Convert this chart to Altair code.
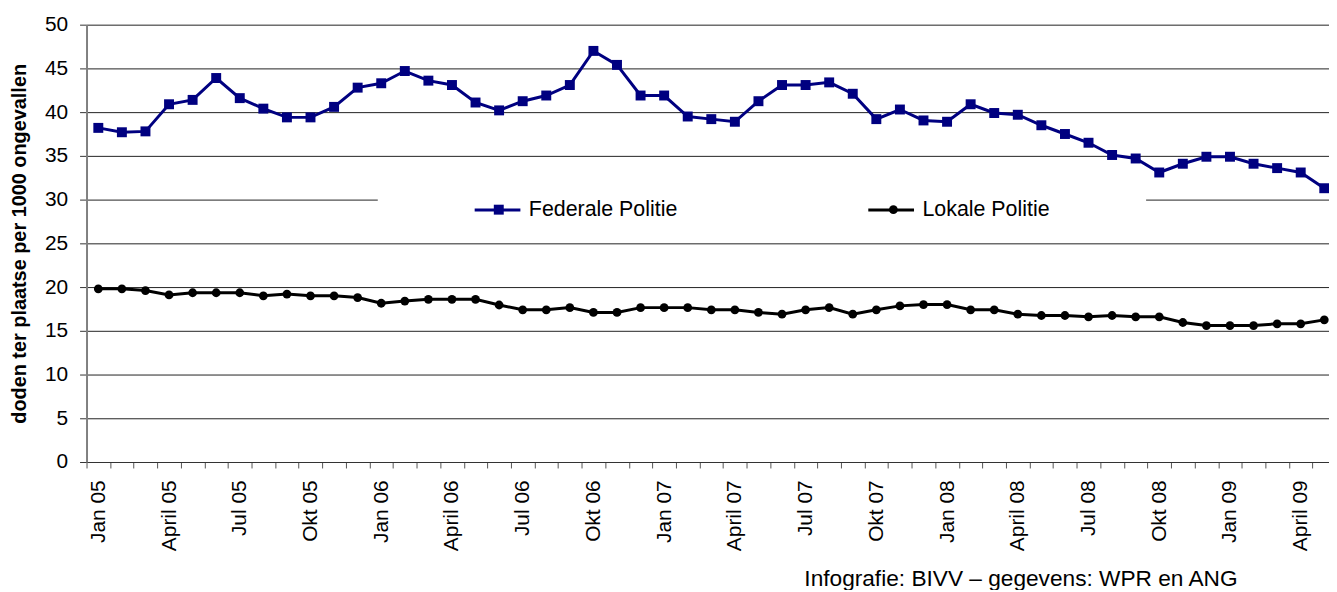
import json
import altair as alt
import pandas as pd

# ---- data ----
series_names = ["Federale Politie", "Lokale Politie"]
series_colors = ["#000080", "#000000"]
series_shapes = ["square", "circle"]
series_sizes = [100, 78]

federale = [38.2, 37.7, 37.8, 40.9, 41.4, 43.9, 41.6, 40.4, 39.4, 39.4,
            40.6, 42.8, 43.3, 44.7, 43.6, 43.1, 41.1, 40.2, 41.25, 41.9,
            43.1, 47.0, 45.4, 41.9, 41.9, 39.5, 39.2, 38.9, 41.25, 43.1,
            43.1, 43.4, 42.1, 39.2, 40.3, 39.05, 38.9, 40.9, 39.9, 39.7,
            38.5, 37.5, 36.5, 35.1, 34.7, 33.1, 34.1, 34.9, 34.9, 34.1,
            33.6, 33.1, 31.3]

lokale = [19.8, 19.8, 19.6, 19.1, 19.35, 19.35, 19.35, 19.0, 19.2, 19.0,
          19.0, 18.8, 18.15, 18.4, 18.6, 18.6, 18.6, 17.95, 17.4, 17.4,
          17.65, 17.1, 17.1, 17.65, 17.65, 17.65, 17.4, 17.4, 17.1, 16.9,
          17.4, 17.65, 16.9, 17.4, 17.85, 18.0, 18.0, 17.4, 17.4, 16.9,
          16.75, 16.75, 16.6, 16.75, 16.6, 16.6, 15.95, 15.6, 15.6, 15.6,
          15.8, 15.8, 16.25]

tick_labels = ["Jan 05", "April 05", "Jul 05", "Okt 05",
               "Jan 06", "April 06", "Jul 06", "Okt 06",
               "Jan 07", "April 07", "Jul 07", "Okt 07",
               "Jan 08", "April 08", "Jul 08", "Okt 08",
               "Jan 09", "April 09"]

y_ticks = [0, 5, 10, 15, 20, 25, 30, 35, 40, 45, 50]

y_title = "doden ter plaatse per 1000 ongevallen"
source_text = "Infografie: BIVV \u2013 gegevens: WPR en ANG"

FONT = "Liberation Sans"

rows = []
for name, vals in zip(series_names, [federale, lokale]):
    for i, v in enumerate(vals):
        rows.append({"idx": i, "series": name, "value": v})
df = pd.DataFrame(rows)

n = len(federale)
tick_positions = [i - 0.5 for i in range(n)]
label_positions = [3 * k for k in range(len(tick_labels))]

label_expr = ("floor(datum.value) === datum.value ? "
              + json.dumps(tick_labels) + "[datum.value / 3] : ''")

x_enc = alt.X(
    "idx:Q",
    scale=alt.Scale(domain=[-0.5, n - 0.8], nice=False, zero=False),
    axis=alt.Axis(
        title=None,
        values=tick_positions + label_positions,
        labelExpr=label_expr,
        labelAngle=270,
        labelFontSize=21,
        labelFont=FONT,
        labelColor="black",
        labelPadding=12,
        labelOverlap=False,
        labelFlush=False,
        labelBound=False,
        tickSize=6,
        tickColor="#555555",
        tickWidth=1,
        tickOpacity={"condition": {"test": "floor(datum.value) !== datum.value", "value": 1}, "value": 0},
        domainColor="#333333",
        domainWidth=1,
        grid=False,
    ),
)

y_enc = alt.Y(
    "value:Q",
    scale=alt.Scale(domain=[0, 50], nice=False, zero=True),
    axis=alt.Axis(
        title=y_title,
        titleFont=FONT,
        titleFontSize=20,
        titleFontWeight="bold",
        titleColor="black",
        titlePadding=15,
        values=y_ticks,
        labelFontSize=21,
        labelFont=FONT,
        labelColor="black",
        labelPadding=12,
        tickSize=7,
        tickColor="#333333",
        domainColor="#808080",
        domainWidth=2,
        grid=True,
        gridColor="#222222",
        gridWidth=1,
    ),
)

# legend 1: the line samples + labels, on a white box
legend_lines = alt.Legend(
    title="\u00a0",
    titleOrient="right",
    titleFontSize=10,
    titlePadding=93,
    orient="none",
    legendX=293,
    legendY=158,
    direction="horizontal",
    fillColor="white",
    padding=4,
    symbolType="stroke",
    symbolSize=2116,
    symbolStrokeWidth=3,
    symbolOffset=92,
    labelOffset=7,
    columnPadding=98,
    labelFontSize=21.5,
    labelFont=FONT,
    labelColor="black",
    zindex=1,
)

# legend 2: only the markers, drawn over the line samples of legend 1
legend_marks = alt.Legend(
    title=None,
    orient="none",
    legendX=293,
    legendY=171,
    direction="horizontal",
    padding=4,
    symbolSize=100,
    symbolStrokeWidth=0,
    symbolOffset=107,
    labelOffset=22,
    labelExpr="''",
    columnPadding=246,
    labelFontSize=21.5,
    labelFont=FONT,
    zindex=2,
)

base = alt.Chart(df)

lines = base.mark_line(strokeWidth=3).encode(
    x=x_enc,
    y=y_enc,
    stroke=alt.Stroke("series:N",
                      scale=alt.Scale(domain=series_names, range=series_colors),
                      legend=legend_lines),
)

points = base.mark_point(filled=True, opacity=1).encode(
    x=x_enc,
    y=y_enc,
    color=alt.Color("series:N", scale=alt.Scale(range=series_colors),
                    legend=legend_marks),
    shape=alt.Shape("series:N", scale=alt.Scale(range=series_shapes),
                    legend=legend_marks),
    size=alt.Size("series:N", scale=alt.Scale(range=series_sizes), legend=None),
)

chart = alt.layer(lines, points).properties(
    width=1250,
    height=440,
    autosize=alt.AutoSizeParams(type="none"),
    padding={"left": 79, "top": 15, "right": 0, "bottom": 127},
    title=alt.TitleParams(
        text=source_text,
        orient="bottom",
        anchor="end",
        frame="group",
        fontSize=22.8,
        fontWeight="normal",
        font=FONT,
        color="black",
        dx=-92,
        offset=18,
    ),
).configure(font=FONT).configure_view(stroke=None)

chart.save("out.html", embed_options={"renderer": "svg", "actions": False})
